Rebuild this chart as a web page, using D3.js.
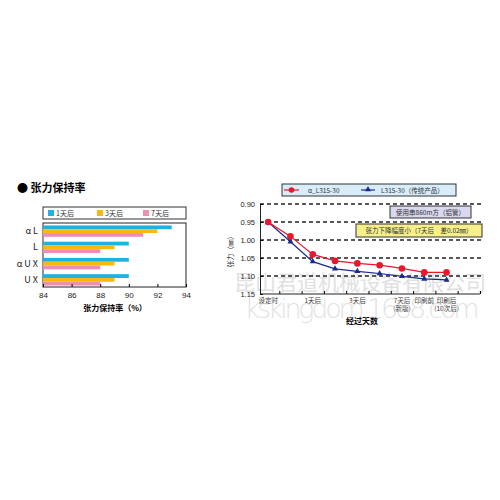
<!DOCTYPE html>
<html>
<head>
<meta charset="utf-8">
<script src="https://cdn.jsdelivr.net/npm/d3@7"></script>
<style>
  body { margin: 0; background: #fff; }
  svg { display: block; font-family: "Noto Sans CJK SC", "Noto Sans", sans-serif; }
</style>
</head>
<body>
<svg id="chart" width="500" height="500"></svg>
<script>
// left chart: tension retention (%)
const rateCats = ["α L", "L", "α U X", "U X"];
const rateSeries = ["1天后", "3天后", "7天后"];
const rate1 = [93, 90, 90, 90];
const rate3 = [92, 89, 89, 89];
const rate7 = [91, 88, 88, 88];
const rateTicks = [84, 86, 88, 90, 92, 94];

// right chart: tension (mm) over time
const dayLabels = ["设定时", "", "1天后", "", "3天后", "", "7天后|(新版)", "印刷前", "印刷后|(10次后)"];
const alphaL = [0.95, 0.99, 1.04, 1.058, 1.065, 1.07, 1.079, 1.09, 1.09];
const oldL = [0.95, 1.005, 1.06, 1.08, 1.087, 1.093, 1.101, 1.108, 1.111];
const tensionTicks = [0.90, 0.95, 1.00, 1.05, 1.10, 1.15];

const svg = d3.select("#chart");
const colors = ["#1eb2e2", "#f6b90c", "#f18db3"];

// ---------- left ----------
svg.append("text").attr("x", 17).attr("y", 192)
  .attr("font-size", 11).attr("font-weight", "bold").text("● 张力保持率");

const xr = d3.scaleLinear().domain([84, 94]).range([43, 186]);
const yr = d3.scaleBand().domain(rateCats).range([223, 288]).paddingInner(0.3).paddingOuter(0.15);
const ys = d3.scaleBand().domain(rateSeries).range([0, yr.bandwidth()]);

// legend
svg.append("rect").attr("x", 43).attr("y", 207).attr("width", 143).attr("height", 12)
  .attr("fill", "#fff").attr("stroke", "#333").attr("stroke-width", 1);
const lg = svg.append("g");
[48, 97, 143].forEach((lx, i) => {
  lg.append("rect").attr("x", lx).attr("y", 210).attr("width", 6).attr("height", 6).attr("fill", colors[i]);
  lg.append("text").attr("x", lx + 8).attr("y", 216).attr("font-size", 7).attr("fill", "#333").text(rateSeries[i]);
});

svg.append("rect").attr("x", 43).attr("y", 223).attr("width", 143).attr("height", 64)
  .attr("fill", "none").attr("stroke", "#222").attr("stroke-width", 1);

[rate1, rate3, rate7].forEach((vals, si) => {
  svg.append("g").selectAll("rect").data(vals).join("rect")
    .attr("x", xr(84))
    .attr("y", (d, i) => yr(rateCats[i]) + ys(rateSeries[si]))
    .attr("width", d => xr(d) - xr(84))
    .attr("height", ys.bandwidth())
    .attr("fill", colors[si]);
});

svg.append("g").attr("transform", "translate(0,287)")
  .call(d3.axisBottom(xr).tickValues(rateTicks).tickSize(-3).tickPadding(5))
  .call(g => g.select(".domain").remove())
  .call(g => g.selectAll("text").attr("font-size", 8).attr("fill", "#222"));

svg.append("g").selectAll("text").data(rateCats).join("text")
  .attr("x", 38).attr("y", d => yr(d) + yr.bandwidth() / 2 + 3)
  .attr("text-anchor", "end").attr("font-size", 9).attr("fill", "#222").text(d => d);

svg.append("text").attr("x", 115).attr("y", 311).attr("text-anchor", "middle")
  .attr("font-size", 8).attr("font-weight", "bold").text("张力保持率（%）");

// ---------- right ----------
const xd = d3.scaleLinear().domain([-0.5, 9.5]).range([257, 480]);
const yt = d3.scaleLinear().domain([0.90, 1.15]).range([204, 294]);

// watermark behind
svg.append("text").attr("x", 360).attr("y", 290).attr("text-anchor", "middle")
  .attr("font-size", 21).attr("fill", "#d9d9d9").attr("opacity", 0.8).text("昆山君道机械设备有限公司");

// dashed grid
svg.append("g").selectAll("line").data(tensionTicks.slice(0, 5)).join("line")
  .attr("x1", 260).attr("x2", 481).attr("y1", d => yt(d)).attr("y2", d => yt(d))
  .attr("stroke", "#222").attr("stroke-width", 1.3).attr("stroke-dasharray", "4,3");

svg.append("g").attr("transform", "translate(260,0)")
  .call(d3.axisLeft(yt).tickValues(tensionTicks).tickFormat(d3.format(".2f")).tickSize(-3).tickPadding(5))
  .call(g => g.select(".domain").attr("stroke", "#222"))
  .call(g => g.selectAll("text").attr("font-size", 7.5).attr("fill", "#222"));

svg.append("g").attr("transform", "translate(0,294)")
  .call(d3.axisBottom(xd).tickValues(d3.range(0.5, 9.6, 1)).tickFormat("").tickSize(-3))
  .call(g => g.select(".domain").attr("d", "M260,0H480").attr("stroke", "#222"));

svg.append("g").selectAll("text").data(dayLabels).join("text")
  .attr("x", (d, i) => xd(i)).attr("y", 303)
  .attr("text-anchor", "middle").attr("font-size", 6.5).attr("fill", "#333")
  .each(function(d) {
    d.split("|").forEach((s, k) => {
      d3.select(this).append("tspan").attr("x", this.getAttribute("x")).attr("dy", k ? 7.5 : 0).text(s);
    });
  });

svg.append("text").attr("x", 362).attr("y", 324).attr("text-anchor", "middle")
  .attr("font-size", 8).attr("font-weight", "bold").text("经过天数");

svg.append("text").attr("transform", "translate(233,250) rotate(-90)")
  .attr("text-anchor", "middle").attr("font-size", 7).attr("fill", "#333").text("张力（㎜）");

// annotation boxes
svg.append("rect").attr("x", 390).attr("y", 206).attr("width", 81).attr("height", 12)
  .attr("fill", "#d9d8ee").attr("stroke", "#333");
svg.append("text").attr("x", 430.5).attr("y", 214.5).attr("text-anchor", "middle")
  .attr("font-size", 6.5).attr("fill", "#333").text("使用串860m方（铝管）");
svg.append("rect").attr("x", 356).attr("y", 224).attr("width", 126).attr("height", 13)
  .attr("fill", "#f7f08a").attr("stroke", "#333");
svg.append("text").attr("x", 419).attr("y", 233).attr("text-anchor", "middle")
  .attr("font-size", 6.5).attr("fill", "#333").text("张力下降幅度小（7天后　差0.02㎜）");

const line = d3.line().x((d, i) => xd(i)).y(d => yt(d));
svg.append("path").datum(oldL).attr("d", line).attr("fill", "none").attr("stroke", "#1b2a8f").attr("stroke-width", 1.2);
svg.append("path").datum(alphaL).attr("d", line).attr("fill", "none").attr("stroke", "#e5182e").attr("stroke-width", 1.2);

const tri = d3.symbol().type(d3.symbolTriangle).size(16);
svg.append("g").selectAll("path").data(oldL).join("path")
  .attr("transform", (d, i) => `translate(${xd(i)},${yt(d)})`).attr("d", tri).attr("fill", "#1b2a8f");
svg.append("g").selectAll("circle").data(alphaL).join("circle")
  .attr("cx", (d, i) => xd(i)).attr("cy", d => yt(d)).attr("r", 3.3).attr("fill", "#e5182e");

// legend
svg.append("rect").attr("x", 282).attr("y", 184).attr("width", 174).attr("height", 12)
  .attr("fill", "#d8ecfa").attr("stroke", "#333");
svg.append("line").attr("x1", 284).attr("x2", 299).attr("y1", 190).attr("y2", 190).attr("stroke", "#e5182e").attr("stroke-width", 1.2);
svg.append("circle").attr("cx", 291.5).attr("cy", 190).attr("r", 2.8).attr("fill", "#e5182e");
svg.append("text").attr("x", 308).attr("y", 192.5).attr("font-size", 6.5).attr("fill", "#333").text("α_L315-30");
svg.append("line").attr("x1", 361).attr("x2", 375).attr("y1", 190).attr("y2", 190).attr("stroke", "#1b2a8f").attr("stroke-width", 1.2);
svg.append("path").attr("transform", "translate(368,189.5)").attr("d", tri).attr("fill", "#1b2a8f");
svg.append("text").attr("x", 381).attr("y", 192.5).attr("font-size", 6.5).attr("fill", "#333").text("L315-30（传统产品）");

// watermark front
svg.append("text").attr("x", 362).attr("y", 318).attr("text-anchor", "middle")
  .attr("font-size", 27).attr("font-family", "DejaVu Sans").attr("font-weight", 300)
  .attr("fill", "#cfcfcf").attr("opacity", 0.6).attr("textLength", 235).text("kskingdom.1688.com");
</script>
</body>
</html>
